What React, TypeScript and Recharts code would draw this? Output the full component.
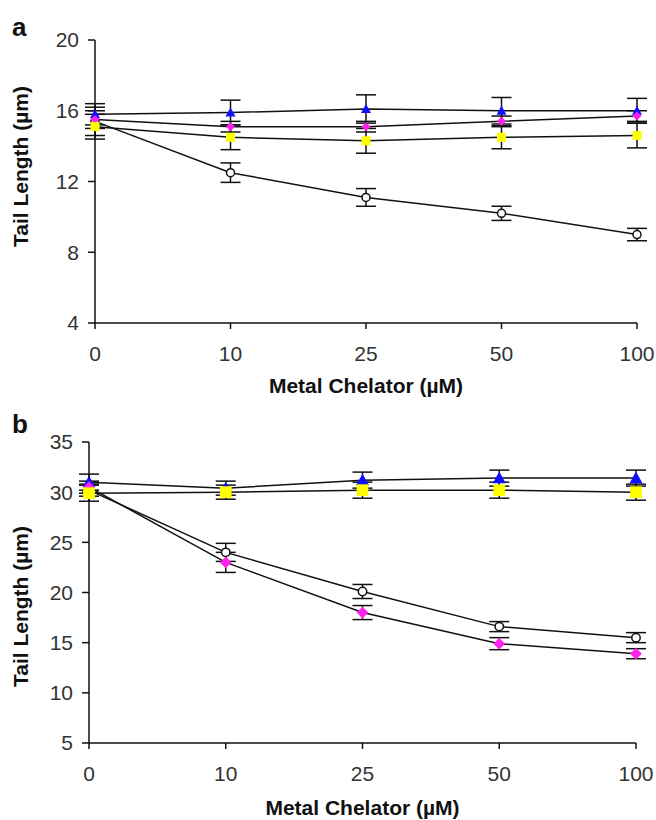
import React from "react";
import { LineChart, Line, XAxis, YAxis, ErrorBar, Label } from "recharts";

// metal chelator concentrations (µM), shown as evenly spaced categories
const doses = ["0", "10", "25", "50", "100"];

// panel a
const aControl = [15.4, 12.5, 11.1, 10.2, 9.0];
const aControlErr = [0.8, 0.55, 0.5, 0.4, 0.35];
const aBlue = [15.8, 15.9, 16.1, 16.0, 16.0];
const aBlueErr = [0.6, 0.7, 0.8, 0.75, 0.7];
const aPink = [15.5, 15.1, 15.1, 15.4, 15.7];
const aPinkErr = [0.5, 0.3, 0.3, 0.3, 0.3];
const aYellow = [15.1, 14.5, 14.3, 14.5, 14.6];
const aYellowErr = [0.7, 0.7, 0.7, 0.65, 0.7];
const aTicks = [4, 8, 12, 16, 20];

// panel b
const bControl = [30.2, 24.0, 20.1, 16.6, 15.5];
const bControlErr = [0.6, 0.9, 0.7, 0.5, 0.5];
const bBlue = [31.0, 30.4, 31.2, 31.4, 31.4];
const bBlueErr = [0.8, 0.7, 0.8, 0.8, 0.8];
const bPink = [30.5, 23.0, 18.0, 14.9, 13.9];
const bPinkErr = [0.6, 1.0, 0.7, 0.6, 0.5];
const bYellow = [29.9, 30.0, 30.2, 30.2, 30.0];
const bYellowErr = [0.8, 0.7, 0.8, 0.8, 0.8];
const bTicks = [5, 10, 15, 20, 25, 30, 35];

const buildRows = (
  ctrl: number[], ctrlE: number[],
  blue: number[], blueE: number[],
  pink: number[], pinkE: number[],
  yellow: number[], yellowE: number[]
) =>
  doses.map((d, i) => ({
    dose: d,
    ctrl: ctrl[i], ctrlE: ctrlE[i],
    blue: blue[i], blueE: blueE[i],
    pink: pink[i], pinkE: pinkE[i],
    yellow: yellow[i], yellowE: yellowE[i],
  }));

const dataA = buildRows(aControl, aControlErr, aBlue, aBlueErr, aPink, aPinkErr, aYellow, aYellowErr);
const dataB = buildRows(bControl, bControlErr, bBlue, bBlueErr, bPink, bPinkErr, bYellow, bYellowErr);

const tickFont = { fontFamily: "'Liberation Sans', Arial, sans-serif", fontSize: 21, fill: "#333" };
const titleFont = {
  fontFamily: "'Liberation Sans', Arial, sans-serif",
  fontSize: 21,
  fontWeight: 700,
  fill: "#111",
};

// marker shapes
const circleDot = (r: number) => (p: any) =>
  p.cx == null ? <g key={p.index} /> : (
    <circle key={p.index} cx={p.cx} cy={p.cy} r={r} fill="#fff" stroke="#111" strokeWidth={1.5} />
  );
const triangleDot = (s: number) => (p: any) =>
  p.cx == null ? <g key={p.index} /> : (
    <polygon
      key={p.index}
      points={`${p.cx},${p.cy - s} ${p.cx - s},${p.cy + s * 0.8} ${p.cx + s},${p.cy + s * 0.8}`}
      fill="#1010ff"
    />
  );
const diamondDot = (s: number) => (p: any) =>
  p.cx == null ? <g key={p.index} /> : (
    <polygon
      key={p.index}
      points={`${p.cx},${p.cy - s} ${p.cx + s},${p.cy} ${p.cx},${p.cy + s} ${p.cx - s},${p.cy}`}
      fill="#ff22ee"
    />
  );
const squareDot = (s: number) => (p: any) =>
  p.cx == null ? <g key={p.index} /> : (
    <rect key={p.index} x={p.cx - s} y={p.cy - s} width={s * 2} height={s * 2} fill="#ffff00" />
  );

type PanelProps = {
  data: any[];
  ticks: number[];
  top: number;
  height: number;
  marginTop: number;
  yWidth: number;
  marginRight: number;
  titleOffset: number;
  yTitleDy: number;
  big: boolean;
};

const Panel = ({ data, ticks, top, height, marginTop, yWidth, marginRight, titleOffset, yTitleDy, big }: PanelProps) => {
  const k = big ? 1.3 : 1;
  const lineProps = { type: "linear" as const, stroke: "#111", strokeWidth: 1.5, isAnimationActive: false };
  const errProps = { direction: "y" as const, width: 10, stroke: "#111", strokeWidth: 1.5 };
  return (
    <div style={{ position: "absolute", left: 0, top }}>
      <LineChart
        width={656}
        height={height}
        data={data}
        margin={{ top: marginTop, right: marginRight, left: 0, bottom: 0 }}
      >
        <XAxis
          dataKey="dose"
          height={77}
          tickSize={6}
          tickMargin={17}
          tick={tickFont}
          axisLine={{ stroke: "#111", strokeWidth: 1.5 }}
          tickLine={{ stroke: "#111", strokeWidth: 1.5 }}
        >
          <Label value="Metal Chelator (µM)" position="insideBottom" offset={titleOffset} style={titleFont} />
        </XAxis>
        <YAxis
          width={yWidth}
          domain={[ticks[0], ticks[ticks.length - 1]]}
          ticks={ticks}
          interval={0}
          tickSize={7}
          tickMargin={9}
          tick={tickFont}
          axisLine={{ stroke: "#111", strokeWidth: 1.5 }}
          tickLine={{ stroke: "#111", strokeWidth: 1.5 }}
        >
          <Label
            value="Tail Length (µm)"
            angle={-90}
            position="insideLeft"
            offset={21}
            dy={yTitleDy}
            style={{ ...titleFont, textAnchor: "middle" }}
          />
        </YAxis>
        <Line dataKey="ctrl" {...lineProps} dot={circleDot(big ? 4.2 : 4)}>
          <ErrorBar dataKey="ctrlE" {...errProps} />
        </Line>
        <Line dataKey="blue" {...lineProps} dot={triangleDot(5 * k)}>
          <ErrorBar dataKey="blueE" {...errProps} />
        </Line>
        <Line dataKey="pink" {...lineProps} dot={diamondDot(4.5 * k)}>
          <ErrorBar dataKey="pinkE" {...errProps} />
        </Line>
        <Line dataKey="yellow" {...lineProps} dot={squareDot(4.5 * k)}>
          <ErrorBar dataKey="yellowE" {...errProps} />
        </Line>
      </LineChart>
    </div>
  );
};

const letterStyle: React.CSSProperties = {
  position: "absolute",
  left: 12,
  fontFamily: "'Liberation Sans', Arial, sans-serif",
  fontSize: 26,
  fontWeight: 700,
  lineHeight: "26px",
  color: "#111",
};

export default function App() {
  return (
    <div style={{ position: "absolute", left: 0, top: 0, width: 656, height: 820, background: "#fff", overflow: "hidden" }}>
      <div style={{ ...letterStyle, top: 14 }}>a</div>
      <div style={{ ...letterStyle, top: 411 }}>b</div>
      <Panel
        data={dataA}
        ticks={aTicks}
        top={0}
        height={400}
        marginTop={40}
        yWidth={95}
        marginRight={19}
        titleOffset={7}
        yTitleDy={-15}
        big={false}
      />
      <Panel
        data={dataB}
        ticks={bTicks}
        top={400}
        height={420}
        marginTop={42}
        yWidth={89}
        marginRight={20}
        titleOffset={5}
        yTitleDy={14}
        big={true}
      />
    </div>
  );
}
